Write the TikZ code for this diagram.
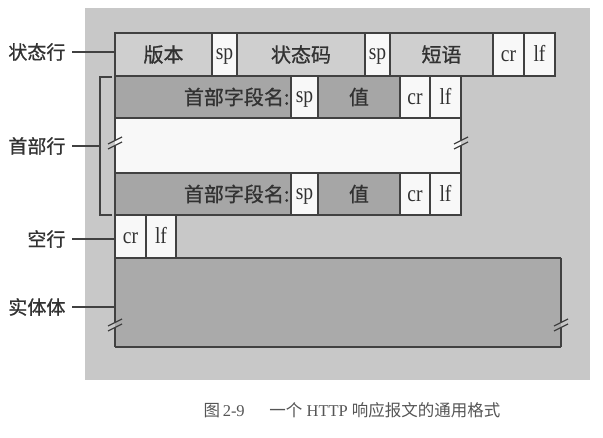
\documentclass[tikz,border=0pt]{standalone}
\usepackage{fontspec}
\setmainfont{Liberation Serif}
\newfontfamily\latcell{Liberation Serif}[FakeStretch=0.85]
\newfontfamily\cjk{Noto Sans CJK SC}[FakeBold=0.8]
\newfontfamily\cjkcap{Noto Sans CJK SC}
\definecolor{bgcol}{RGB}{200,200,200}
\definecolor{rowcol}{RGB}{207,207,207}
\definecolor{darkcol}{RGB}{166,166,166}
\definecolor{bodycol}{RGB}{170,170,170}
\definecolor{whitecol}{RGB}{248,248,248}
\definecolor{ink}{RGB}{50,50,50}
\definecolor{linecol}{RGB}{65,65,65}
\definecolor{capcol}{RGB}{85,85,85}
\begin{document}
\begin{tikzpicture}[x=1pt,y=-1pt,
  line width=1.2pt,
  cell/.style={draw=linecol, fill=#1, inner sep=0pt, outer sep=0pt, anchor=north west,
    text=ink, font=\fontsize{20}{20}\selectfont},
  lat/.style={font=\latcell\fontsize{23}{23}\selectfont, text height=19pt, text depth=4pt},
  latsp/.style={font=\latcell\fontsize{23}{23}\selectfont, text height=15pt, text depth=4pt},
  lbl/.style={inner sep=0pt, anchor=east, text=ink, font=\cjk\fontsize{19}{19}\selectfont},
  conn/.style={draw=linecol, line width=1.2pt},
  brkmark/.pic={\draw[linecol, line width=1.2pt] (-7,1) -- (7,-6); \draw[linecol, line width=1.2pt] (-7,6) -- (7,-1);}
]
\useasboundingbox (0,0) rectangle (603,438);
\fill[white] (0,0) rectangle (603,438);
% gray background panel
\fill[bgcol] (85,8) rectangle (590,380);

% status line
\node[cell=rowcol, minimum width=97pt, minimum height=43pt] (ver) at (115,33) {\cjk 版本};
\node[cell=whitecol, latsp, minimum width=25pt, minimum height=43pt] (sp0) at (212,33) {sp};
\node[cell=rowcol, minimum width=128pt, minimum height=43pt] (code) at (237,33) {\cjk 状态码};
\node[cell=whitecol, latsp, minimum width=25pt, minimum height=43pt] (sp1) at (365,33) {sp};
\node[cell=rowcol, minimum width=103pt, minimum height=43pt] (phr) at (390,33) {\cjk 短语};
\node[cell=whitecol, lat, minimum width=31pt, minimum height=43pt] (cr0) at (493,33) {cr};
\node[cell=whitecol, lat, minimum width=31pt, minimum height=43pt] (lf0) at (524,33) {lf};

% middle white area of header lines
\fill[whitecol] (115,118) rectangle (461,173);
\coordinate (hbl) at (115,143);
\coordinate (hbr) at (461,143);
\draw[linecol] (115,118) -- ([yshift=2.5pt]hbl);
\draw[linecol] ([yshift=-2.5pt]hbl) -- (115,173);
\draw[linecol] (461,118) -- ([yshift=2.5pt]hbr);
\draw[linecol] ([yshift=-2.5pt]hbr) -- (461,173);
\pic at (hbl) {brkmark};
\pic at (hbr) {brkmark};

% header line 1
\node[cell=darkcol, minimum width=176pt, minimum height=42pt, text width=173pt, align=right] (n1) at (115,76) {\cjk 首部字段名:};
\node[cell=whitecol, latsp, minimum width=27pt, minimum height=42pt] (s1) at (291,76) {sp};
\node[cell=darkcol, minimum width=82pt, minimum height=42pt] (v1) at (318,76) {\cjk 值};
\node[cell=whitecol, lat, minimum width=30pt, minimum height=42pt] (c1) at (400,76) {cr};
\node[cell=whitecol, lat, minimum width=31pt, minimum height=42pt] (l1) at (430,76) {lf};

% header line 2
\node[cell=darkcol, minimum width=176pt, minimum height=42pt, text width=173pt, align=right] (n2) at (115,173) {\cjk 首部字段名:};
\node[cell=whitecol, latsp, minimum width=27pt, minimum height=42pt] (s2) at (291,173) {sp};
\node[cell=darkcol, minimum width=82pt, minimum height=42pt] (v2) at (318,173) {\cjk 值};
\node[cell=whitecol, lat, minimum width=30pt, minimum height=42pt] (c2) at (400,173) {cr};
\node[cell=whitecol, lat, minimum width=31pt, minimum height=42pt] (l2) at (430,173) {lf};

% blank line
\node[cell=whitecol, lat, minimum width=31pt, minimum height=43pt] (cr3) at (115,215) {cr};
\node[cell=whitecol, lat, minimum width=30pt, minimum height=43pt] (lf3) at (146,215) {lf};

% entity body
\fill[bodycol] (115,258) rectangle (561,347);
\coordinate (bbl) at (115,325);
\coordinate (bbr) at (561,325);
\draw[linecol] (115,258) -- (561,258);
\draw[linecol] (115,347) -- (561,347);
\draw[linecol] (115,258) -- ([yshift=2.5pt]bbl);
\draw[linecol] ([yshift=-2.5pt]bbl) -- (115,347);
\draw[linecol] (561,258) -- ([yshift=2.5pt]bbr);
\draw[linecol] ([yshift=-2.5pt]bbr) -- (561,347);
\pic at (bbl) {brkmark};
\pic at (bbr) {brkmark};

% bracket for header lines
\coordinate (bt) at (100,77);
\coordinate (bb) at (100,215);
\coordinate (bm) at (100,146);
\draw[linecol] (112,77) -- (bt) -- (bb) -- (112,215);

% left labels
\node[lbl] (L1) at (66,52) {状态行};
\node[lbl] (L2) at (66,146) {首部行};
\node[lbl] (L3) at (66,239) {空行};
\node[lbl] (L4) at (66,307) {实体体};
\coordinate (e4) at (115,307);
\draw[conn] ([xshift=6pt]L1.east) -- (ver.west |- L1.east);
\draw[conn] ([xshift=6pt]L2.east) -- (bm);
\draw[conn] ([xshift=6pt]L3.east) -- (cr3.west |- L3.east);
\draw[conn] ([xshift=6pt]L4.east) -- (e4);

% caption
\node[text=capcol, font=\fontsize{16.5}{16.5}\selectfont, inner sep=0pt] (cap) at (352,410)
  {{\cjkcap 图}\,2-9\hspace{1.5em}{\cjkcap 一个} HTTP {\cjkcap 响应报文的通用格式}};
\end{tikzpicture}
\end{document}
